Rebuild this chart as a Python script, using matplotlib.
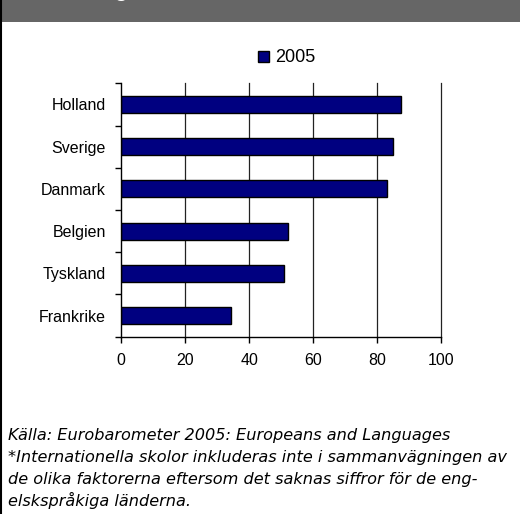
import matplotlib
matplotlib.use("Agg")
import matplotlib.pyplot as plt
from matplotlib.patches import Rectangle
from matplotlib.lines import Line2D

countries = ["Holland", "Sverige", "Danmark", "Belgien", "Tyskland", "Frankrike"]
values_2005 = [87.4, 85.1, 83.0, 52.0, 51.0, 34.3]
series_label = "2005"
xticks = [0, 20, 40, 60, 80, 100]
footer_lines = [
    "Källa: Eurobarometer 2005: Europeans and Languages",
    "*Internationella skolor inkluderas inte i sammanvägningen av",
    "de olika faktorerna eftersom det saknas siffror för de eng-",
    "elskspråkiga länderna.",
]

W, H = 520, 514
fig = plt.figure(figsize=(W / 100, H / 100), dpi=100)
fig.patch.set_facecolor("white")

def fx(px):
    return px / W

def fy(py):
    return 1 - py / H

# header bar
fig.patches.append(Rectangle((fx(2), fy(22)), 1 - fx(2), fy(0) - fy(22),
                             transform=fig.transFigure, facecolor="#666666",
                             edgecolor="none", zorder=0))
fig.text(fx(114), fy(-3), "g", color="white", fontsize=15, fontweight="bold",
         family="Liberation Sans", va="baseline", ha="left")
# left border
fig.lines.append(Line2D([fx(1), fx(1)], [0, 1], transform=fig.transFigure,
                        color="black", lw=1.5))

ax = fig.add_axes([fx(121.3), fy(336.7), fx(441) - fx(121.3), fy(83.3) - fy(336.7)])
ypos = list(range(len(countries)))
bars = ax.barh(ypos, values_2005, height=0.4, color="#000080", edgecolor="black",
               linewidth=1.0, label=series_label, zorder=3)
ax.set_ylim(len(countries) - 0.5, -0.5)
ax.set_xlim(0, 100)
ax.set_xticks(xticks)
ax.set_xticklabels([str(t) for t in xticks])
ax.set_yticks(ypos)
ax.set_yticklabels(countries)
ax.set_yticks([i - 0.5 for i in range(len(countries) + 1)], minor=True)
ax.tick_params(axis="y", which="major", length=0, pad=11, labelsize=11.5)
ax.tick_params(axis="y", which="minor", length=4, width=1, direction="out")
ax.tick_params(axis="x", length=4, width=1, direction="out", pad=8, labelsize=11.5)
for lab in ax.get_xticklabels() + ax.get_yticklabels():
    lab.set_family("Liberation Sans")
for s in ["top", "right"]:
    ax.spines[s].set_visible(False)
for s in ["left", "bottom"]:
    ax.spines[s].set_linewidth(1.0)
    ax.spines[s].set_zorder(4)
for t in xticks[1:]:
    ax.axvline(t, color="#222222", lw=0.9, zorder=1, clip_on=False)

leg = fig.legend(handles=[bars], labels=[series_label], loc="center left",
                 bbox_to_anchor=(fx(244), fy(58)), frameon=False,
                 handlelength=0.56, handleheight=0.56, handletextpad=0.35,
                 borderpad=0.3, prop={"family": "Liberation Sans", "size": 13})

y0 = 440
for i, line in enumerate(footer_lines):
    fig.text(fx(8), fy(y0 + 22 * i), line, fontsize=11.6, style="italic",
             family="DejaVu Sans", va="baseline", ha="left", color="black")

fig.savefig("out.png", dpi=100, facecolor="white")
